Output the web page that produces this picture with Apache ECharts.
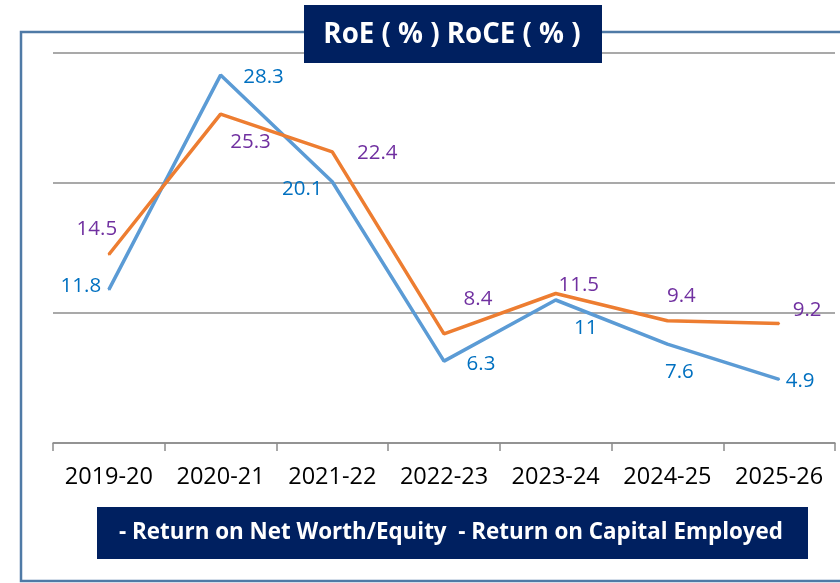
<!DOCTYPE html>
<html>
<head>
<meta charset="utf-8">
<script src="https://cdn.jsdelivr.net/npm/echarts@6/dist/echarts.min.js"></script>
<style>
  html, body { margin: 0; padding: 0; background: #fff; }
  #chart { width: 840px; height: 583px; }
</style>
</head>
<body>
<div id="chart"></div>
<script>
const years = ['2019-20', '2020-21', '2021-22', '2022-23', '2023-24', '2024-25', '2025-26']
const roe = [11.8, 28.3, 20.1, 6.3, 11, 7.6, 4.9]
const roce = [14.5, 25.3, 22.4, 8.4, 11.5, 9.4, 9.2]
const titleText = 'RoE ( % ) RoCE ( % )'
const legendText = '- Return on Net Worth/Equity  - Return on Capital Employed'

// label nudges, label centre relative to the point
const roeLabelShift = [[-28, -3], [43, 2], [-30, 7], [37, 3], [30, 28], [12, 28], [21, 2]]
const roceLabelShift = [[-12, -25], [30, 28], [45, 1], [34, -35], [23, -8], [14, -25], [28, -13]]

const font = '"Open Sans", sans-serif'

function withLabels(values, shifts, color) {
  return values.map((v, i) => ({
    value: v,
    label: {
      show: true,
      position: 'inside',
      offset: shifts[i],
      color,
      fontSize: 20.5,
      fontFamily: font,
    },
  }))
}

const chart = echarts.init(document.getElementById('chart'))

chart.setOption({
  animation: false,
  grid: { left: 53, right: 5, top: 53, bottom: 140 },
  xAxis: {
    type: 'category',
    data: years,
    boundaryGap: true,
    axisLine: { lineStyle: { color: '#8c8c8c', width: 1.5 } },
    axisTick: { show: true, interval: 0, length: 8, lineStyle: { color: '#8c8c8c', width: 1.5 } },
    axisLabel: { interval: 0, hideOverlap: false, color: '#000', fontSize: 23.5, fontFamily: font, margin: 22 },
  },
  yAxis: {
    type: 'value',
    min: 0,
    max: 30,
    interval: 10,
    axisLine: { show: false },
    axisTick: { show: false },
    axisLabel: { show: false },
    splitLine: { lineStyle: { color: '#8c8c8c', width: 1.5 } },
  },
  series: [
    {
      name: 'RoE',
      type: 'line',
      data: withLabels(roe, roeLabelShift, '#0070c0'),
      symbol: 'circle',
      symbolSize: 2,
      itemStyle: { color: '#5b9bd5' },
      lineStyle: { color: '#5b9bd5', width: 3.5 },
      z: 2,
    },
    {
      name: 'RoCE',
      type: 'line',
      data: withLabels(roce, roceLabelShift, '#7030a0'),
      symbol: 'circle',
      symbolSize: 2,
      itemStyle: { color: '#ed7d31' },
      lineStyle: { color: '#ed7d31', width: 3.5 },
      z: 3,
    },
  ],
  graphic: [
    {
      type: 'rect',
      shape: { x: 21, y: 32, width: 860, height: 549 },
      style: { fill: 'none', stroke: '#4f7aa6', lineWidth: 2.5 },
      z: 0,
    },
    {
      type: 'rect',
      shape: { x: 304, y: 5, width: 298, height: 58 },
      style: { fill: '#002060' },
      z: 10,
    },
    {
      type: 'text',
      x: 452,
      y: 35,
      style: {
        text: titleText,
        fill: '#fff',
        font: 'bold 27.7px "Open Sans", sans-serif',
        align: 'center',
        verticalAlign: 'middle',
      },
      z: 11,
    },
    {
      type: 'rect',
      shape: { x: 97, y: 507, width: 711, height: 52 },
      style: { fill: '#002060' },
      z: 10,
    },
    {
      type: 'text',
      x: 451,
      y: 533,
      style: {
        text: legendText,
        fill: '#fff',
        font: 'bold 22.4px "Open Sans", sans-serif',
        align: 'center',
        verticalAlign: 'middle',
      },
      z: 11,
    },
  ],
})

window.addEventListener('resize', () => chart.resize())
</script>
</body>
</html>
